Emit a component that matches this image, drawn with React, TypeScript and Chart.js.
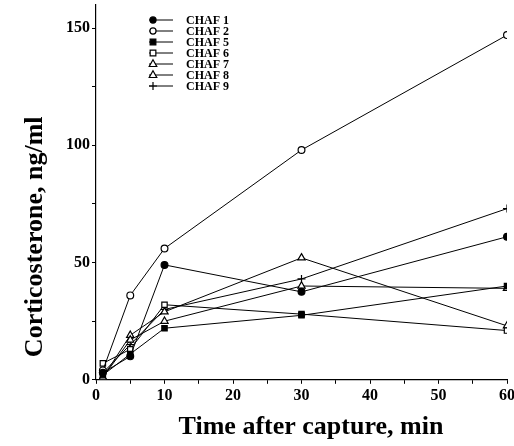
import React, { useEffect, useRef } from "react";
import { Chart, registerables } from "chart.js";

Chart.register(...registerables);

const times = [1, 5, 10, 30, 60];
const seriesNames = ["CHAF 1", "CHAF 2", "CHAF 5", "CHAF 6", "CHAF 7", "CHAF 8", "CHAF 9"];
const chaf1 = [3, 10, 49, 37.5, 61];
const chaf2 = [4, 36, 56, 98, 147];
const chaf5 = [2, 11, 22, 27.5, 40];
const chaf6 = [7, 13, 32, 28, 21];
const chaf7 = [1, 17, 25, 40, 39];
const chaf8 = [1, 19, 29, 52, 23];
const chaf9 = [3, 15, 30, 43, 73];
const seriesValues = [chaf1, chaf2, chaf5, chaf6, chaf7, chaf8, chaf9];
const xTickLabels = [0, 10, 20, 30, 40, 50, 60];
const yTickLabels = [0, 50, 100, 150];
const xTitle = "Time after capture, min";
const yTitle = "Corticosterone, ng/ml";

const styles = [
  { pointStyle: "circle", fill: "#000", radius: 3.4 },
  { pointStyle: "circle", fill: "#fff", radius: 3.4 },
  { pointStyle: "rect", fill: "#000", radius: 3.8 },
  { pointStyle: "rect", fill: "#fff", radius: 3.8 },
  { pointStyle: "triangle", fill: "#fff", radius: 4.2 },
  { pointStyle: "triangle", fill: "#fff", radius: 4.2 },
  { pointStyle: "cross", fill: "#000", radius: 4 },
];

const FONT = "'Liberation Serif', 'Times New Roman', serif";
const SHIFT_Y = 7; // canvas is shifted up by this many px

function drawMarker(ctx: CanvasRenderingContext2D, style: string, fill: string, r: number, x: number, y: number) {
  ctx.save();
  ctx.lineWidth = 1.2;
  ctx.strokeStyle = "#000";
  ctx.fillStyle = fill;
  ctx.beginPath();
  if (style === "circle") {
    ctx.arc(x, y, r * 0.9, 0, Math.PI * 2);
    ctx.fill();
    ctx.stroke();
  } else if (style === "rect") {
    ctx.rect(x - r * 0.75, y - r * 0.75, r * 1.5, r * 1.5);
    ctx.fill();
    ctx.stroke();
  } else if (style === "triangle") {
    ctx.moveTo(x, y - r);
    ctx.lineTo(x + r * 0.9, y + r * 0.6);
    ctx.lineTo(x - r * 0.9, y + r * 0.6);
    ctx.closePath();
    ctx.fill();
    ctx.stroke();
  } else {
    ctx.moveTo(x - r, y);
    ctx.lineTo(x + r, y);
    ctx.moveTo(x, y - r);
    ctx.lineTo(x, y + r);
    ctx.stroke();
  }
  ctx.restore();
}

const overlayPlugin = {
  id: "overlay",
  afterDraw(chart: any) {
    const ctx = chart.ctx;
    const area = chart.chartArea;
    ctx.save();
    // legend
    const x0 = 149;
    const y0 = 20 + SHIFT_Y;
    const step = 11;
    chart.data.datasets.forEach((ds: any, i: number) => {
      const y = y0 + i * step;
      ctx.strokeStyle = "#000";
      ctx.lineWidth = 1;
      ctx.beginPath();
      ctx.moveTo(x0, y);
      ctx.lineTo(x0 + 24, y);
      ctx.stroke();
      const st = styles[i];
      drawMarker(ctx, st.pointStyle, st.fill, st.radius, x0 + 4, y);
      ctx.fillStyle = "#000";
      ctx.font = `bold 12px ${FONT}`;
      ctx.textBaseline = "middle";
      ctx.textAlign = "left";
      ctx.fillText(ds.label, x0 + 37, y + 0.5);
    });
    // axis titles
    ctx.fillStyle = "#000";
    ctx.textAlign = "center";
    ctx.textBaseline = "middle";
    ctx.font = `bold 26px ${FONT}`;
    ctx.fillText(xTitle, area.left + 215, 427 + SHIFT_Y);
    ctx.save();
    ctx.translate(35, area.bottom - 143);
    ctx.rotate(-Math.PI / 2);
    ctx.font = `bold 26px ${FONT}`;
    ctx.fillText(yTitle, 0, 0);
    ctx.restore();
    ctx.restore();
  },
};

export default function App() {
  const ref = useRef<HTMLCanvasElement>(null);
  useEffect(() => {
    if (!ref.current) return;
    const datasets = seriesNames.map((name, i) => ({
      label: name,
      data: times.map((t, j) => ({ x: t, y: seriesValues[i][j] })),
      borderColor: "#000",
      borderWidth: 1,
      backgroundColor: styles[i].fill,
      pointBackgroundColor: styles[i].fill,
      pointBorderColor: "#000",
      pointBorderWidth: 1.2,
      pointStyle: styles[i].pointStyle,
      pointRadius: styles[i].radius,
      tension: 0,
      fill: false,
    }));
    const chart = new Chart(ref.current, {
      type: "line",
      data: { datasets },
      options: {
        animation: false,
        responsive: false,
        maintainAspectRatio: false,
        layout: { padding: { top: 0, right: 1, left: 64, bottom: 39 } },
        plugins: { legend: { display: false }, tooltip: { enabled: false } },
        scales: {
          x: {
            type: "linear",
            min: 0,
            max: 60,
            ticks: {
              stepSize: 5,
              color: "#000",
              font: { family: FONT, weight: "bold", size: 16 },
              padding: 2,
              maxRotation: 0,
              autoSkip: false,
              callback: (v: any) => (xTickLabels.includes(Number(v)) ? String(v) : ""),
            },
            grid: { drawOnChartArea: false, drawTicks: true, tickLength: 4, color: "#000" },
            border: { color: "#000", width: 1.2 },
            title: { display: false },
          },
          y: {
            type: "linear",
            min: 0,
            max: 160,
            afterBuildTicks: (axis: any) => {
              axis.ticks = axis.ticks.filter((t: any) => t.value % 25 === 0);
            },
            ticks: {
              stepSize: 25,
              color: "#000",
              font: { family: FONT, weight: "bold", size: 16 },
              padding: 2,
              autoSkip: false,
              callback: (v: any) => (yTickLabels.includes(Number(v)) ? String(v) : ""),
            },
            grid: { drawOnChartArea: false, drawTicks: true, tickLength: 4, color: "#000" },
            border: { color: "#000", width: 1.2 },
            title: { display: false },
          },
        },
      },
      plugins: [overlayPlugin],
    });
    return () => chart.destroy();
  }, []);
  return (
    <div style={{ position: "fixed", left: 0, top: 0, width: 514, height: 446, overflow: "hidden", background: "#fff" }}>
      <canvas
        ref={ref}
        width={517}
        height={446 + SHIFT_Y}
        style={{ position: "absolute", left: 0, top: -SHIFT_Y, width: 517, height: 446 + SHIFT_Y }}
      />
    </div>
  );
}
